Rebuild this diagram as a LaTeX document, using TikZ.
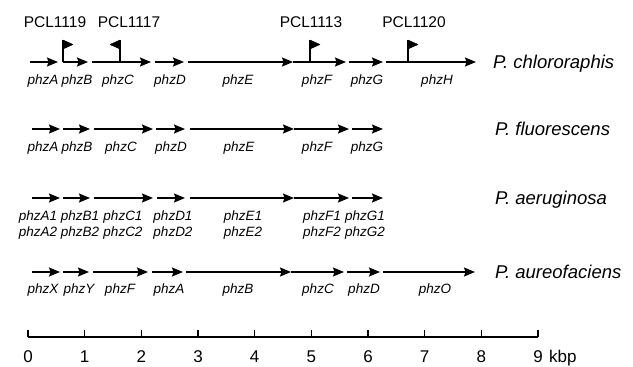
\documentclass[tikz,border=0pt]{standalone}
\usepackage{fontspec}
\setmainfont{Liberation Sans}
\usetikzlibrary{arrows.meta}
\tikzset{
  genearrow/.style={line width=1.4pt,-{Stealth[length=11pt,width=9pt,inset=1.5pt]}},
  genelab/.style={anchor=base,inner sep=0pt,font=\fontsize{13.5}{13.5}\selectfont\itshape},
  pcllab/.style={anchor=base,inner sep=0pt,font=\fontsize{15.5}{15.5}\selectfont},
  species/.style={anchor=base west,inner sep=0pt,font=\fontsize{18.5}{18.5}\selectfont\itshape},
  scalenum/.style={anchor=base,inner sep=0pt,font=\fontsize{17}{17}\selectfont},
  pole/.style={line width=1.1pt},
  flagshape/.style={fill=black,draw=black,line width=0.4pt,line join=round},
}
\newcommand\gene[4]{%
  \coordinate (#1s) at (#2,#4);
  \coordinate (#1e) at (#3,#4);
  \draw[genearrow] (#1s) -- (#1e);}
\begin{document}
\begin{tikzpicture}[x=1pt,y=-1pt]
\useasboundingbox (0,0) rectangle (633,367);
% ---------- Row 1: P. chlororaphis ----------
\gene{r1a}{30}{58}{62}
\gene{r1b}{63}{88}{62}
\gene{r1c}{92}{151}{62}
\gene{r1d}{155}{184}{62}
\gene{r1e}{188}{293}{62}
\gene{r1f}{293}{346}{62}
\gene{r1g}{349}{383}{62}
\gene{r1h}{386}{476}{62}
\node[genelab] (g1a) at (43,84) {phzA};
\node[genelab] (g1b) at (77,84) {phzB};
\node[genelab] (g1c) at (118,84) {phzC};
\node[genelab] (g1d) at (170,84) {phzD};
\node[genelab] (g1e) at (238,84) {phzE};
\node[genelab] (g1f) at (317,84) {phzF};
\node[genelab] (g1g) at (367,84) {phzG};
\node[genelab] (g1h) at (437,84) {phzH};
\node[species] (sp1) at (493,68) {P. chlororaphis};
% promoters (flags)
\coordinate (f1b) at (63,62); \coordinate (f1t) at (63,40);
\draw[pole] (f1b) -- (f1t);
\filldraw[flagshape] (f1t) -- ++(10,4.5) -- ++(-10,4.5) -- cycle;
\coordinate (f2b) at (120,62); \coordinate (f2t) at (120,40);
\draw[pole] (f2b) -- (f2t);
\filldraw[flagshape] (f2t) -- ++(-10,4.5) -- ++(10,4.5) -- cycle;
\coordinate (f3b) at (310,62); \coordinate (f3t) at (310,40);
\draw[pole] (f3b) -- (f3t);
\filldraw[flagshape] (f3t) -- ++(10,4.5) -- ++(-10,4.5) -- cycle;
\coordinate (f4b) at (408,62); \coordinate (f4t) at (408,40);
\draw[pole] (f4b) -- (f4t);
\filldraw[flagshape] (f4t) -- ++(10,4.5) -- ++(-10,4.5) -- cycle;
\node[pcllab] (p1) at (55,27) {PCL1119};
\node[pcllab] (p2) at (129,27) {PCL1117};
\node[pcllab] (p3) at (311,27) {PCL1113};
\node[pcllab] (p4) at (414,27) {PCL1120};
% ---------- Row 2: P. fluorescens ----------
\gene{r2a}{32}{60}{129}
\gene{r2b}{63}{90}{129}
\gene{r2c}{94}{153}{129}
\gene{r2d}{156}{185}{129}
\gene{r2e}{190}{294}{129}
\gene{r2f}{294}{349}{129}
\gene{r2g}{352}{383}{129}
\node[genelab] (g2a) at (43,151) {phzA};
\node[genelab] (g2b) at (77,151) {phzB};
\node[genelab] (g2c) at (121,151) {phzC};
\node[genelab] (g2d) at (171,151) {phzD};
\node[genelab] (g2e) at (239,151) {phzE};
\node[genelab] (g2f) at (317,151) {phzF};
\node[genelab] (g2g) at (367,151) {phzG};
\node[species] (sp2) at (495,135) {P. fluorescens};
% ---------- Row 3: P. aeruginosa ----------
\gene{r3a}{32}{60}{198}
\gene{r3b}{63}{90}{198}
\gene{r3c}{94}{153}{198}
\gene{r3d}{157}{185}{198}
\gene{r3e}{190}{294}{198}
\gene{r3f}{294}{349}{198}
\gene{r3g}{352}{383}{198}
\node[genelab] (g3a) at (38,220) {phzA1};
\node[genelab] (g3b) at (80,220) {phzB1};
\node[genelab] (g3c) at (123,220) {phzC1};
\node[genelab] (g3d) at (173,220) {phzD1};
\node[genelab] (g3e) at (243,220) {phzE1};
\node[genelab] (g3f) at (322,220) {phzF1};
\node[genelab] (g3g) at (365,220) {phzG1};
\node[genelab] (h3a) at (38,236) {phzA2};
\node[genelab] (h3b) at (80,236) {phzB2};
\node[genelab] (h3c) at (123,236) {phzC2};
\node[genelab] (h3d) at (173,236) {phzD2};
\node[genelab] (h3e) at (243,236) {phzE2};
\node[genelab] (h3f) at (322,236) {phzF2};
\node[genelab] (h3g) at (365,236) {phzG2};
\node[species] (sp3) at (495,204) {P. aeruginosa};
% ---------- Row 4: P. aureofaciens ----------
\gene{r4a}{32}{60}{272}
\gene{r4b}{63}{89}{272}
\gene{r4c}{93}{148}{272}
\gene{r4d}{152}{183}{272}
\gene{r4e}{186}{291}{272}
\gene{r4f}{291}{344}{272}
\gene{r4g}{347}{380}{272}
\gene{r4h}{383}{475}{272}
\node[genelab] (g4a) at (43,293) {phzX};
\node[genelab] (g4b) at (79,293) {phzY};
\node[genelab] (g4c) at (120,293) {phzF};
\node[genelab] (g4d) at (169,293) {phzA};
\node[genelab] (g4e) at (238,293) {phzB};
\node[genelab] (g4f) at (318,293) {phzC};
\node[genelab] (g4g) at (364,293) {phzD};
\node[genelab] (g4h) at (435,293) {phzO};
\node[species] (sp4) at (495,278) {P. aureofaciens};
% ---------- Scale bar ----------
\coordinate (s0) at (28,337);
\coordinate (s9) at (538,337);
\draw[line width=1.1pt] (s0) -- (s9);
\foreach \k in {0,...,9}{
  \coordinate (t\k) at ({28+56.67*\k},337);
  \draw[line width=1.1pt] (t\k) -- ++(0,-7);
  \node[scalenum] (n\k) at ({28+56.67*\k},362) {\k};
}
\node[scalenum,anchor=base west] (kbp) at (549,362) {kbp};
\end{tikzpicture}
\end{document}
